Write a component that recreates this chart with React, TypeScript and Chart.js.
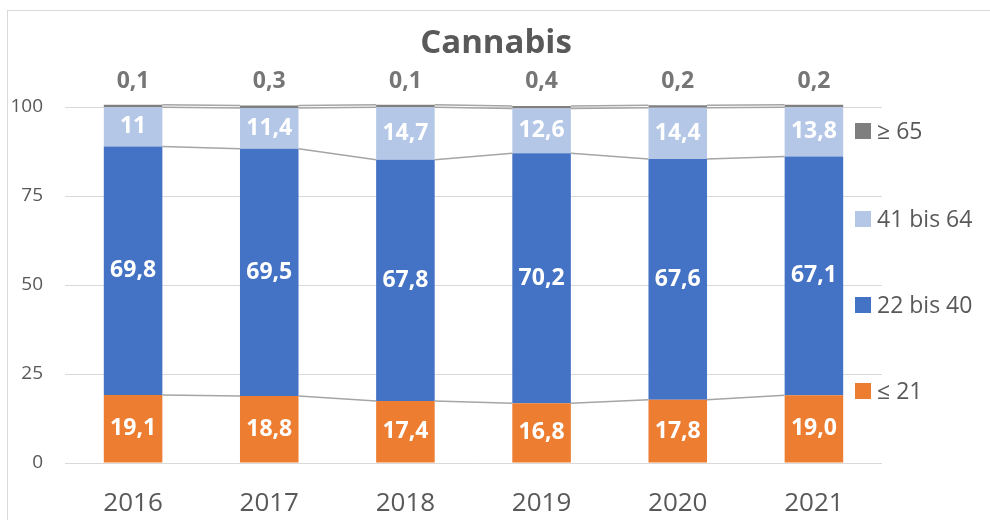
import React, { useEffect, useRef } from "react";
import { Chart, registerables } from "chart.js";

Chart.register(...registerables);

const years = ["2016", "2017", "2018", "2019", "2020", "2021"];
const under21 = [19.1, 18.8, 17.4, 16.8, 17.8, 19.0];
const age22to40 = [69.8, 69.5, 67.8, 70.2, 67.6, 67.1];
const age41to64 = [11, 11.4, 14.7, 12.6, 14.4, 13.8];
const over65 = [0.1, 0.3, 0.1, 0.4, 0.2, 0.2];
const under21Labels = ["19,1", "18,8", "17,4", "16,8", "17,8", "19,0"];
const age22to40Labels = ["69,8", "69,5", "67,8", "70,2", "67,6", "67,1"];
const age41to64Labels = ["11", "11,4", "14,7", "12,6", "14,4", "13,8"];
const over65Labels = ["0,1", "0,3", "0,1", "0,4", "0,2", "0,2"];
const seriesNames = ["≤ 21", "22 bis 40", "41 bis 64", "≥ 65"];
const yTicks = [0, 25, 50, 75, 100];
const title = "Cannabis";

const COLORS = ["#ED7D31", "#4472C4", "#B4C7E7", "#7F7F7F"];
const FONT = "'Open Sans', 'Noto Sans', sans-serif";

const allLabels = [under21Labels, age22to40Labels, age41to64Labels, over65Labels];

const decorPlugin = {
  id: "decor",
  beforeDraw(chart: any) {
    const ctx = chart.ctx;
    ctx.save();
    ctx.strokeStyle = "#D9D9D9";
    ctx.lineWidth = 1;
    ctx.strokeRect(7.5, 10.5, 1200, 800);
    ctx.restore();
  },
  afterDatasetsDraw(chart: any) {
    const ctx = chart.ctx;
    ctx.save();
    // series lines
    ctx.strokeStyle = "#A5A5A5";
    ctx.lineWidth = 1.5;
    chart.data.datasets.forEach((_: any, d: number) => {
      const meta = chart.getDatasetMeta(d);
      for (let i = 0; i < meta.data.length - 1; i++) {
        const a = meta.data[i];
        const b = meta.data[i + 1];
        ctx.beginPath();
        ctx.moveTo(a.x + a.width / 2, a.y);
        ctx.lineTo(b.x - b.width / 2, b.y);
        ctx.stroke();
      }
    });
    // data labels
    ctx.textAlign = "center";
    ctx.textBaseline = "middle";
    ctx.font = `bold 23px ${FONT}`;
    chart.data.datasets.forEach((_: any, d: number) => {
      const meta = chart.getDatasetMeta(d);
      meta.data.forEach((el: any, i: number) => {
        const txt = allLabels[d][i];
        if (d === 3) {
          ctx.fillStyle = "#767676";
          ctx.fillText(txt, el.x, 81);
        } else {
          ctx.fillStyle = "#FFFFFF";
          ctx.fillText(txt, el.x, (el.y + el.base) / 2);
        }
      });
    });
    ctx.restore();
  },
  afterDraw(chart: any) {
    const ctx = chart.ctx;
    ctx.save();
    // title
    ctx.fillStyle = "#595959";
    ctx.font = `bold 33px ${FONT}`;
    ctx.textAlign = "center";
    ctx.textBaseline = "middle";
    ctx.fillText(title, 496, 44);
    // legend (reverse order)
    const ys = [391, 305, 219, 131];
    ctx.font = `23px ${FONT}`;
    ctx.textAlign = "left";
    seriesNames.forEach((name, d) => {
      const y = ys[d];
      ctx.fillStyle = COLORS[d];
      ctx.fillRect(855, y - 8, 16, 16);
      ctx.fillStyle = "#595959";
      ctx.fillText(name, 877, y + 1);
    });
    ctx.restore();
  },
};

export default function App() {
  const ref = useRef<HTMLCanvasElement | null>(null);
  useEffect(() => {
    if (!ref.current) return;
    const series = [under21, age22to40, age41to64, over65];
    const chart = new Chart(ref.current, {
      type: "bar",
      data: {
        labels: years,
        datasets: series.map((vals, d) => ({
          label: seriesNames[d],
          data: vals,
          backgroundColor: COLORS[d],
          borderWidth: 0,
          barPercentage: 1,
          categoryPercentage: 0.43,
          minBarLength: d === 3 ? 2.5 : 0,
          clip: false as any,
        })),
      },
      options: {
        responsive: false,
        animation: false,
        layout: { padding: { top: 107, right: 108, left: 0, bottom: 0 } },
        plugins: {
          legend: { display: false },
          title: { display: false },
          tooltip: { enabled: false },
        },
        scales: {
          x: {
            stacked: true,
            grid: { display: false, drawTicks: false },
            border: { display: false },
            ticks: {
              color: "#595959",
              font: { family: FONT, size: 26 },
              padding: 25,
            },
            afterFit: (s: any) => {
              s.height = 57;
            },
          },
          y: {
            stacked: true,
            min: 0,
            max: 100,
            afterBuildTicks: (s: any) => {
              s.ticks = yTicks.map((v) => ({ value: v }));
            },
            grid: { color: "#D9D9D9", lineWidth: 1, drawTicks: false },
            border: { display: false },
            ticks: {
              color: "#595959",
              font: { family: FONT, size: 19 },
              padding: 22,
            },
            afterFit: (s: any) => {
              s.width = 65;
            },
          },
        },
      },
      plugins: [decorPlugin],
    });
    return () => chart.destroy();
  }, []);
  return (
    <div style={{ position: "fixed", left: 0, top: 0, width: 990, height: 520, background: "#fff" }}>
      <canvas ref={ref} width={990} height={520} />
    </div>
  );
}
